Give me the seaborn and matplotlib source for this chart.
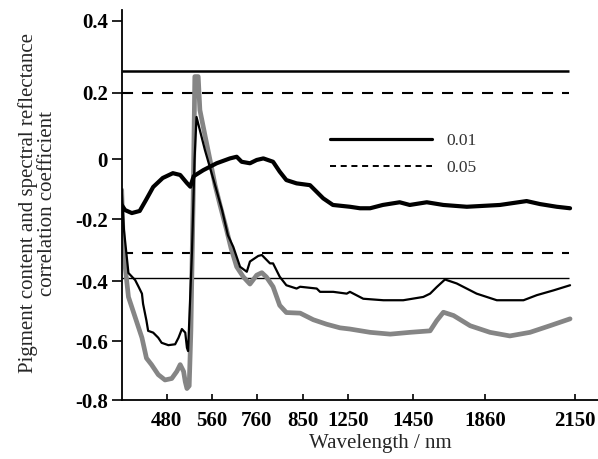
import numpy as np
import pandas as pd
import seaborn as sns
import matplotlib
matplotlib.use('Agg')
import matplotlib.pyplot as plt
from matplotlib.lines import Line2D

# thick black curve
wl_a = [400, 406, 418, 432, 443, 456, 473, 491, 504, 516, 522, 528, 545, 582, 641, 671, 693, 730, 760, 773,
        792, 805, 818, 838, 914, 1030, 1115, 1255, 1286, 1317, 1356, 1408, 1439, 1527, 1622, 1756, 1908, 1994,
        2037, 2091, 2134]
r_a = [-0.153, -0.17, -0.18, -0.173, -0.137, -0.093, -0.063, -0.047, -0.053, -0.08, -0.092, -0.057, -0.037,
       -0.014, 0.002, 0.007, -0.009, -0.014, -0.003, 0.002, -0.009, -0.042, -0.07, -0.081, -0.087, -0.131,
       -0.153, -0.159, -0.164, -0.164, -0.153, -0.144, -0.153, -0.144, -0.153, -0.159, -0.153, -0.14, -0.15,
       -0.159, -0.164]

# thin black curve
wl_b = [400, 404, 412, 424, 430, 436, 438, 444, 447, 456, 465, 471, 483, 495, 501, 507, 513, 516, 518, 525,
        529.5, 533, 548, 575, 606, 632, 656, 686, 716, 730, 763, 770, 786, 792, 805, 818, 838, 845, 973, 1002,
        1118, 1236, 1255, 1296, 1358, 1419, 1507, 1546, 1584, 1631, 1698, 1812, 1898, 1984, 2027, 2081, 2134]
r_b = [-0.103, -0.235, -0.374, -0.397, -0.419, -0.442, -0.476, -0.532, -0.566, -0.572, -0.589, -0.606,
       -0.614, -0.611, -0.589, -0.56, -0.572, -0.623, -0.634, -0.302, -0.003, 0.127, 0.027, -0.087, -0.17,
       -0.252, -0.29, -0.354, -0.37, -0.337, -0.319, -0.316, -0.343, -0.343, -0.386, -0.414, -0.425, -0.419,
       -0.425, -0.436, -0.436, -0.442, -0.436, -0.459, -0.464, -0.464, -0.453, -0.442, -0.42, -0.395, -0.408,
       -0.442, -0.464, -0.464, -0.447, -0.431, -0.414]

# thick gray curve
wl_c = [400, 403, 412, 424, 436, 444, 453, 465, 477, 489, 498, 504, 510, 513, 516, 520, 523, 527, 530, 536,
        539, 548, 557, 575, 597, 624, 646, 671, 700, 730, 760, 770, 779, 792, 805, 818, 845, 943, 1060, 1177,
        1255, 1317, 1379, 1440, 1546, 1584, 1622, 1680, 1775, 1876, 1940, 2005, 2069, 2134]
r_c = [-0.103, -0.30, -0.453, -0.521, -0.589, -0.658, -0.68, -0.714, -0.732, -0.727, -0.703, -0.68, -0.703,
       -0.738, -0.761, -0.752, -0.566, -0.137, 0.245, 0.245, 0.148, 0.072, -0.003, -0.087, -0.153, -0.229,
       -0.294, -0.354, -0.386, -0.41, -0.381, -0.373, -0.387, -0.419, -0.481, -0.505, -0.507, -0.529, -0.544,
       -0.556, -0.56, -0.571, -0.577, -0.571, -0.566, -0.532, -0.504, -0.515, -0.549, -0.571, -0.583, -0.571,
       -0.549, -0.526]

# significance levels
sig_01 = [0.26, -0.39]
sig_05 = [0.2, -0.31]
sig_span = [400, 2130]

xticks = [480, 560, 760, 850, 1250, 1450, 1860, 2150]
yticks = [-0.8, -0.6, -0.4, -0.2, 0, 0.2, 0.4]
ytick_labels = ['-0.8', '-0.6', '-0.4', '-0.2', '0', '0.2', '0.4']

# uneven axis spacing of the original figure (piecewise scales)
x_knots = [300, 400, 480, 560, 760, 850, 1250, 1450, 1860, 2150, 2400]
x_pos = [65.5, 121.7, 166.7, 211.7, 256.7, 302.7, 348.3, 413.3, 485, 575, 652.6]
y_knots = [-1.0, -0.8, -0.6, -0.4, -0.2, 0, 0.2, 0.4, 0.6]
y_pos = [-458, -400, -341, -281, -219, -159, -92.7, -20.7, 51.3]

sns.set_theme(style='ticks')
plt.rcParams['font.family'] = ['Liberation Serif', 'DejaVu Serif']
plt.rcParams['axes.unicode_minus'] = False

fig = plt.figure(figsize=(5.98, 4.59), dpi=100)
ax = fig.add_axes([0.2035, 0.1285, 0.7965, 0.8497])

for lvl in sig_01:
    ax.hlines(lvl, sig_span[0], sig_span[1], color='black',
              lw=1.8 if lvl > 0 else 1.0, zorder=1)
for lvl in sig_05:
    ax.hlines(lvl, sig_span[0], sig_span[1], color='black', lw=1.5,
              linestyles=(0, (5.3, 4.3)), zorder=1)

df_c = pd.DataFrame({'wl': wl_c, 'r': r_c})
df_b = pd.DataFrame({'wl': wl_b, 'r': r_b})
df_a = pd.DataFrame({'wl': wl_a, 'r': r_a})
sns.lineplot(data=df_c, x='wl', y='r', ax=ax, color='#858585', lw=3.4, estimator=None, sort=False, zorder=2)
sns.lineplot(data=df_b, x='wl', y='r', ax=ax, color='black', lw=1.6, estimator=None, sort=False, zorder=3)
sns.lineplot(data=df_a, x='wl', y='r', ax=ax, color='black', lw=3.0, estimator=None, sort=False, zorder=3)

ax.set_xscale('function', functions=(lambda v: np.interp(v, x_knots, x_pos),
                                     lambda p: np.interp(p, x_pos, x_knots)))
ax.set_yscale('function', functions=(lambda v: np.interp(v, y_knots, y_pos),
                                     lambda p: np.interp(p, y_pos, y_knots)))
ax.set_xlim(400, 2224)
ax.set_ylim(-0.8, 0.43)

ax.set_xticks(xticks)
ax.set_xticklabels([str(t) for t in xticks], fontsize=15, fontweight='bold')
ax.set_yticks(yticks)
ax.set_yticklabels(ytick_labels, fontsize=15, fontweight='bold')
ax.minorticks_off()
ax.tick_params(axis='x', direction='in', length=4, width=1.2, pad=8, colors='black')
ax.tick_params(axis='y', direction='out', length=7, width=1.2, pad=3, colors='black')

for side in ['top', 'right']:
    ax.spines[side].set_visible(False)
for side in ['left', 'bottom']:
    ax.spines[side].set_linewidth(1.3)
    ax.spines[side].set_color('black')

ax.set_xlabel('Wavelength / nm', fontsize=15)
ax.xaxis.set_label_coords(0.542, -0.088)
ax.set_ylabel('Pigment content and spectral reflectance\ncorrelation coefficient', fontsize=15,
              linespacing=1.0)
ax.yaxis.set_label_coords(-0.135, 0.505)

handles = [Line2D([], [], color='black', lw=2.3),
           Line2D([], [], color='black', lw=1.4, ls=(0, (3.1, 2.4)))]
ax.legend(handles, ['0.01', '0.05'], loc='upper left', bbox_to_anchor=(0.437, 0.685),
          frameon=False, fontsize=12.5, handlelength=5.9, handletextpad=0.8,
          labelspacing=0.6, borderpad=0, borderaxespad=0, labelcolor='#333333')

fig.savefig('out.png', dpi=100)
